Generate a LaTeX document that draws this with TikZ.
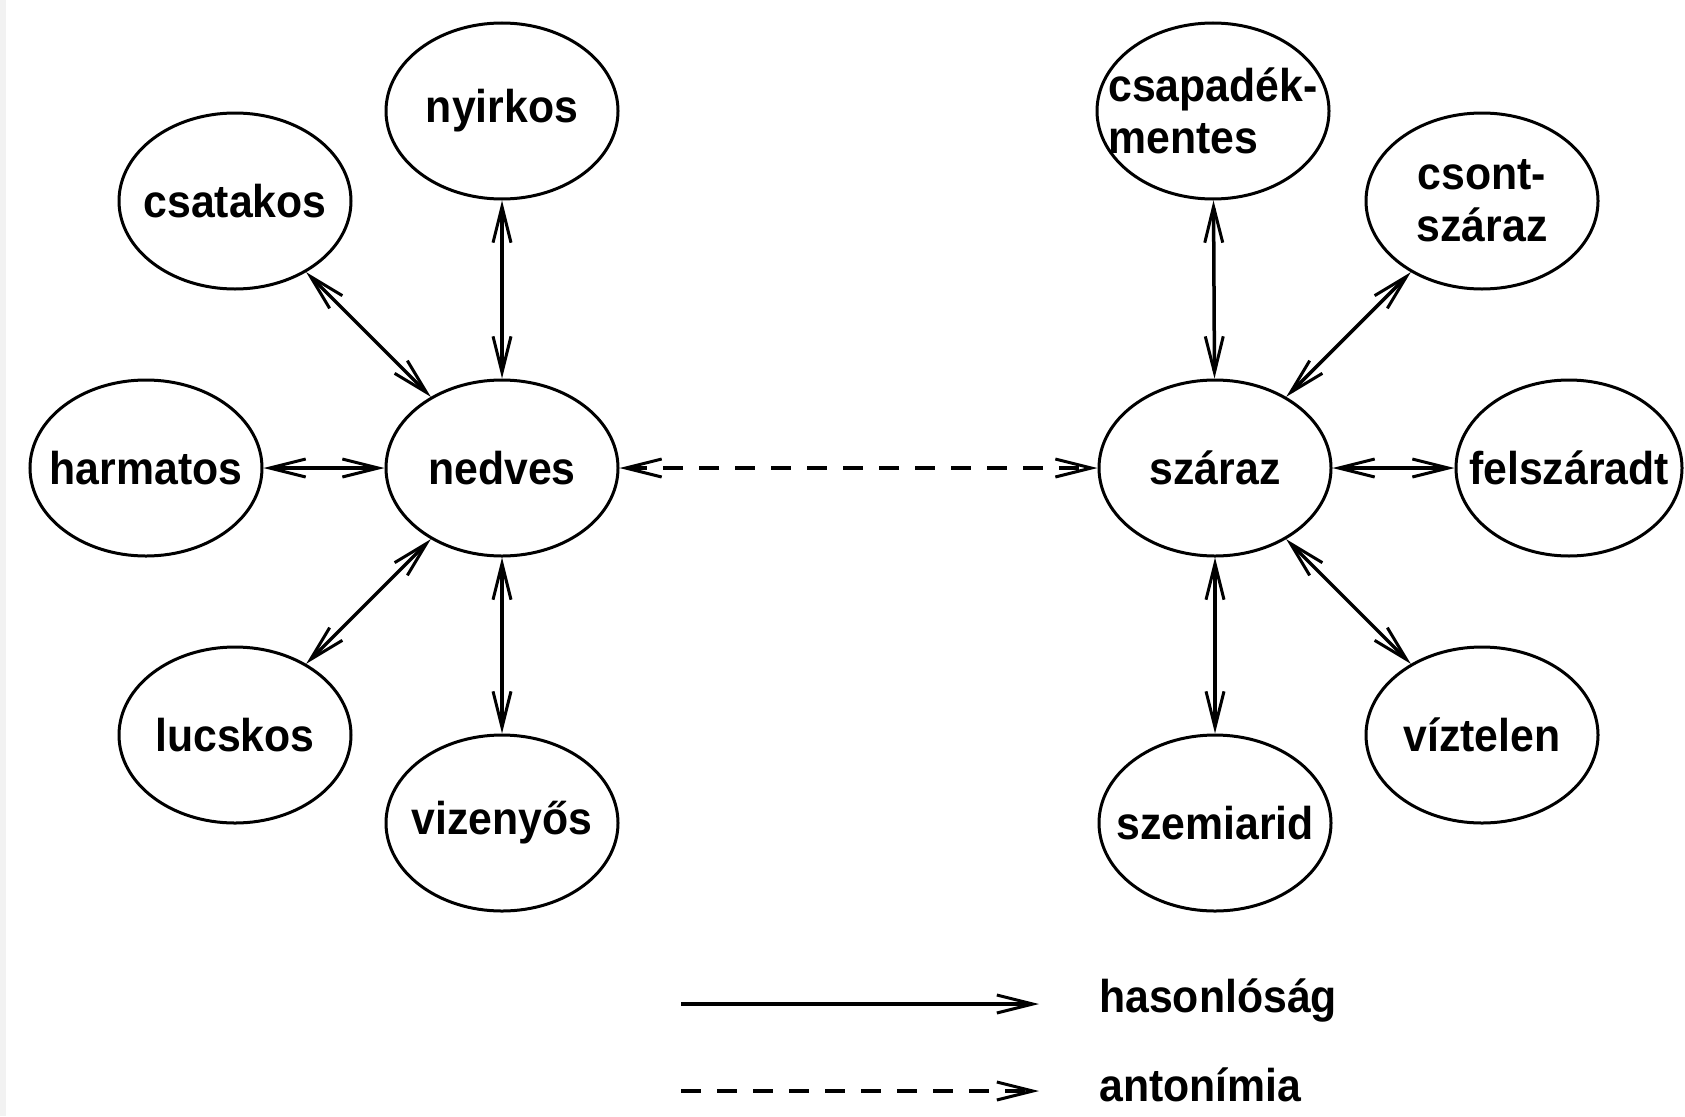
\documentclass[tikz,border=0pt]{standalone}
\usepackage{fontspec}
\setmainfont{Liberation Sans}
\newfontfamily\lblfont{Liberation Sans Bold}[FakeStretch=0.93]
\usetikzlibrary{shapes.geometric,arrows.meta}
\begin{document}
\begin{tikzpicture}[x=1pt,y=-1pt,
  el/.style={draw, line width=3pt, ellipse, minimum width=232pt, minimum height=176pt, inner sep=0pt},
  lbl/.style={font=\lblfont\fontsize{46}{52}\selectfont, inner sep=0pt},
  barb/.tip={Straight Barb[length=36pt,width=18pt,line width=3pt]},
  sim/.style={line width=3.5pt, {barb}-{barb}},
  ant/.style={sim, dash pattern=on 20pt off 16pt},
]
\useasboundingbox[fill=white] (0,0) rectangle (1685,1116);
\fill[black!5] (0,0) rectangle (6,1116);

% left cluster
\node[el, label={[lbl]center:nedves}] (nedves) at (502,468) {};
\node[el, label={[lbl]center:nyirkos}] (nyirkos) at (502,111) {};
\node[el, label={[lbl]center:csatakos}] (csatakos) at (235,201) {};
\node[el, label={[lbl]center:harmatos}] (harmatos) at (146,468) {};
\node[el, label={[lbl]center:lucskos}] (lucskos) at (235,735) {};
\node[el, label={[lbl]center:vizenyős}] (vizenyos) at (502,823) {};

% right cluster
\node[el, label={[lbl]center:száraz}] (szaraz) at (1215,468) {};
\node[el, label={[lbl,align=left]center:csapadék-\\mentes}] (csapadek) at (1213,111) {};
\node[el, label={[lbl,align=center]center:csont-\\száraz}] (csont) at (1482,201) {};
\node[el, minimum width=226pt, label={[lbl]center:felszáradt}] (felszaradt) at (1569,468) {};
\node[el, label={[lbl]center:víztelen}] (viztelen) at (1482,735) {};
\node[el, label={[lbl]center:szemiarid}] (szemiarid) at (1215,823) {};

% connectors
\draw[sim] (nedves) -- (nyirkos);
\draw[sim] (nedves) -- (csatakos);
\draw[sim] (nedves) -- (harmatos);
\draw[sim] (nedves) -- (lucskos);
\draw[sim] (nedves) -- (vizenyos);
\draw[sim] (szaraz) -- (csapadek);
\draw[sim] (szaraz) -- (csont);
\draw[sim] (szaraz) -- (felszaradt);
\draw[sim] (szaraz) -- (viztelen);
\draw[sim] (szaraz) -- (szemiarid);
\draw[ant] (nedves) -- (szaraz);

% legend
\coordinate (h1) at (681,1004);
\coordinate (h2) at (1039,1004);
\coordinate (a1) at (681,1091);
\coordinate (a2) at (1039,1091);
\draw[line width=3.5pt, -{barb}] (h1) -- (h2);
\draw[line width=3.5pt, dash pattern=on 20pt off 16pt, -{barb}] (a1) -- (a2);
\node[lbl, anchor=base west] (hason) at (1099,1012) {hasonlóság};
\node[lbl, anchor=base west] (anton) at (1099,1101) {antonímia};
\end{tikzpicture}
\end{document}
